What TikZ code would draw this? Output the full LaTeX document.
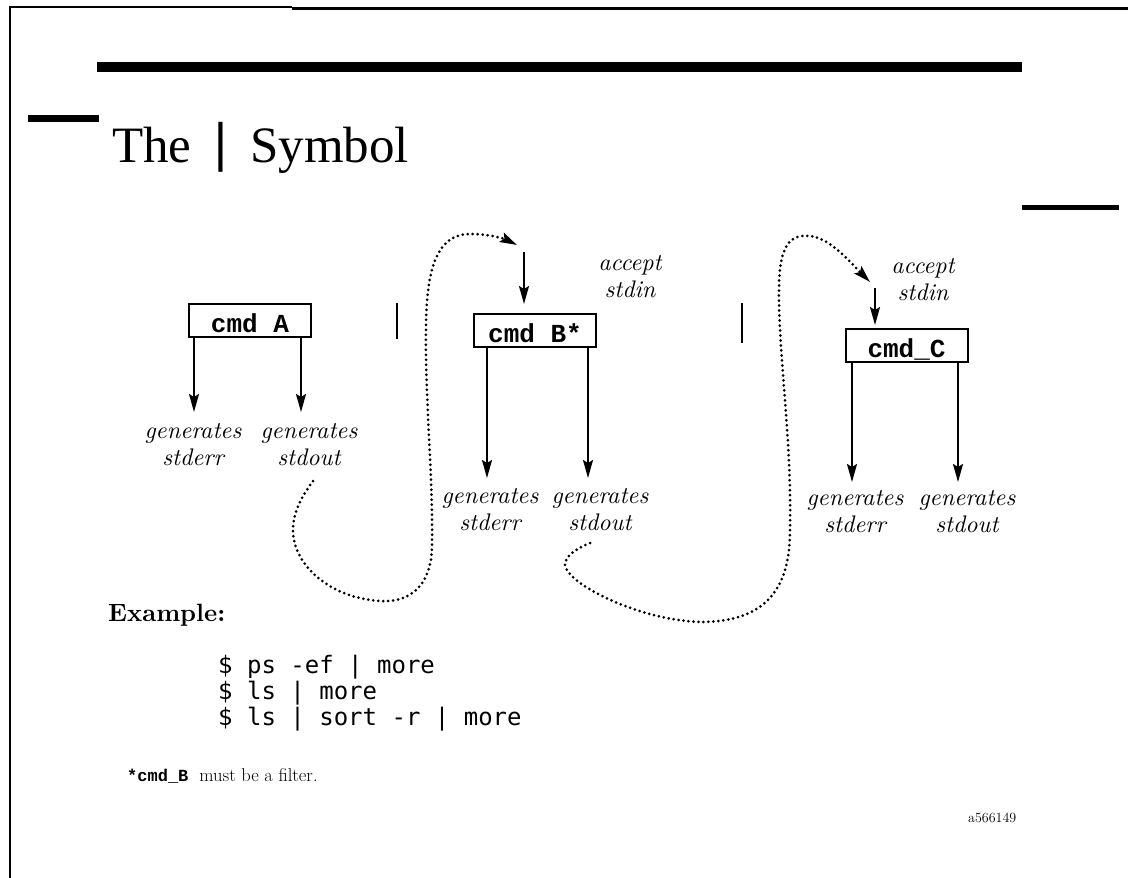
\documentclass[tikz,border=0pt]{standalone}
\usepackage{fontspec}
\newfontfamily\titlefont{Liberation Serif}
\newfontfamily\barfont{DejaVu Sans}
\newfontfamily\boxfont{Liberation Mono}
\newfontfamily\codefont{DejaVu Sans Mono}
\newfontfamily\labelfont{lmroman10-italic.otf}
\newfontfamily\headfont{lmroman10-bold.otf}
\usetikzlibrary{arrows.meta}

\begin{document}
\begin{tikzpicture}[x=1pt, y=-1pt,
  cmdbox/.style={draw, line width=2pt, minimum width=122pt, inner xsep=0pt, inner ysep=0pt,
    text height=28.5pt, text depth=4.5pt,
    font=\boxfont\bfseries\fontsize{26}{26}\selectfont},
  flow/.style={line width=2pt, -{Stealth[length=18pt, width=10pt, inset=3pt]}},
  pipeflow/.style={line width=3pt, line cap=round, dash pattern=on 0pt off 5pt,
    -{Stealth[length=17pt, width=10pt, inset=3pt]}},
  stream/.style={font=\labelfont\fontsize{24}{27}\selectfont, align=center, inner sep=0pt, anchor=north},
  pipebar/.style={line width=2pt},
  code/.style={anchor=base west, inner sep=0pt, font=\codefont\fontsize{24}{24}\selectfont},
]
\useasboundingbox (0,0) rectangle (1128,878);

% page frame and rules
\draw[line width=1.5pt] (10,878) -- (10,7) -- (292,7);
\draw[line width=3pt] (292,8.3) -- (1128,8.3);
\fill (97,62) rectangle (1022,72);
\fill (28,115) rectangle (99,122);
\fill (1022,205) rectangle (1119,210);

% heading
\node[anchor=base west, inner sep=0pt, font=\titlefont\fontsize{51}{51}\selectfont] (title) at (112,162)
  {The\hspace{21pt}{\barfont\fontsize{50}{50}\selectfont\raisebox{2pt}{|}}\hspace{21pt}Symbol};

% command boxes
\node[cmdbox] (boxA) at (250,320) {cmd A};
\node[cmdbox] (boxB) at (535,330.5) {cmd B*};
\node[cmdbox] (boxC) at (906.5,345.5) {cmd\_C};

% pipe separators
\draw[pipebar] (397,303) -- (397,339);
\draw[pipebar] (742,303) -- (742,343);

% stream labels
\node[stream] (errA) at (193,423) {generates\\stderr};
\node[stream] (outA) at (309,423) {generates\\stdout};
\node[stream] (errB) at (490,488) {generates\\stderr};
\node[stream] (outB) at (600,488) {generates\\stdout};
\node[stream] (errC) at (855,490) {generates\\stderr};
\node[stream] (outC) at (967,490) {generates\\stdout};
\node[stream] (inB) at (630,255) {accept\\stdin};
\node[stream] (inC) at (923,258) {accept\\stdin};

% output arrows
\coordinate (aerr) at (194,412);
\coordinate (aout) at (301,412);
\coordinate (berr) at (487,478);
\coordinate (bout) at (588,478);
\coordinate (cerr) at (852,482);
\coordinate (cout) at (958,482);
\draw[flow] (aerr |- boxA.south) -- (aerr);
\draw[flow] (aout |- boxA.south) -- (aout);
\draw[flow] (berr |- boxB.south) -- (berr);
\draw[flow] (bout |- boxB.south) -- (bout);
\draw[flow] (cerr |- boxC.south) -- (cerr);
\draw[flow] (cout |- boxC.south) -- (cout);

% input arrows
\coordinate (bin) at (524,252);
\coordinate (cin) at (875,288);
\draw[flow, shorten >=9pt] (bin) -- (bin |- boxB.north);
\draw[flow, shorten >=3pt] (cin) -- (cin |- boxC.north);

% dotted pipe paths: stdout of one command into stdin of the next
\coordinate (pipeAstart) at (313,481);
\coordinate (pipeAend) at (517,245);
\draw[pipeflow] (pipeAstart)
  .. controls (302,496) and (293,512) .. (293,530)
  .. controls (293,565) and (330,598) .. (380,601)
  .. controls (415,603) and (432,580) .. (432,545)
  .. controls (433,470) and (425,400) .. (426,330)
  .. controls (426,262) and (440,234) .. (470,234)
  .. controls (490,234) and (505,239) .. (pipeAend);

\coordinate (pipeBstart) at (590,543);
\coordinate (pipeBend) at (870,282);
\draw[pipeflow] (pipeBstart)
  .. controls (578,548) and (565,555) .. (565,565)
  .. controls (568,585) and (640,620) .. (700,622)
  .. controls (765,622) and (790,590) .. (790,530)
  .. controls (792,440) and (778,350) .. (779,290)
  .. controls (779,245) and (790,234) .. (810,236)
  .. controls (830,238) and (850,262) .. (pipeBend);

% example commands
\node[anchor=base west, inner sep=0pt, font=\headfont\fontsize{25}{25}\selectfont] (example) at (108,621) {Example:};
\node[code] (line1) at (218,673) {\$ ps -ef | more};
\node[code] (line2) at (218,699) {\$ ls | more};
\node[code] (line3) at (218,725) {\$ ls | sort -r | more};

% footnote and figure id
\node[anchor=base west, inner sep=0pt, font=\fontsize{18.5}{18.5}\selectfont] (note) at (127,781)
  {{\boxfont\bfseries\fontsize{17}{17}\selectfont *cmd\_B}\hspace{11pt}must be a filter.};
\node[anchor=base west, inner sep=0pt, font=\fontsize{14}{14}\selectfont] (figid) at (968,822) {a566149};
\end{tikzpicture}
\end{document}
